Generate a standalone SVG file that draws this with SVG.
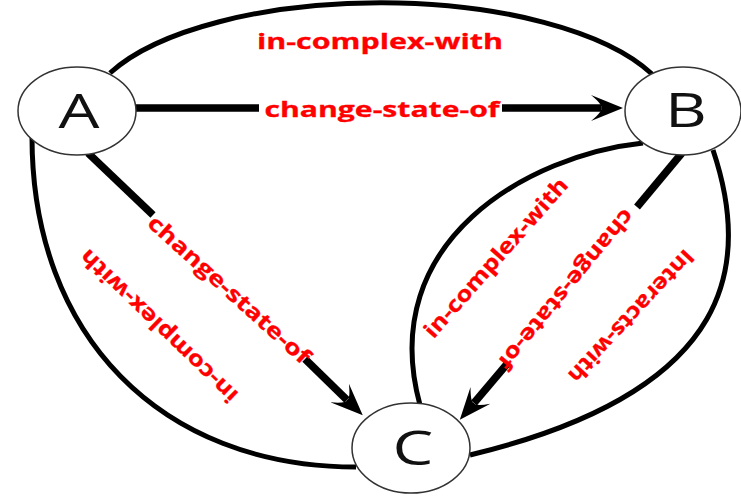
<svg xmlns="http://www.w3.org/2000/svg" width="741" height="498" viewBox="0 0 741 498">
<defs>
<style>
.node ellipse{fill:#fff;stroke:#333;stroke-width:1.5}
.node text{font-family:"Open Sans","Liberation Sans",sans-serif;font-size:48px;fill:#111;text-anchor:middle}
.thick{stroke:#000;stroke-width:7.5;fill:none}
.arc{stroke:#000;stroke-width:5;fill:none}
.lbl{font-family:"Open Sans","Liberation Sans",sans-serif;font-weight:700;fill:#ff0000;stroke:#ff0000;stroke-width:0.3;text-anchor:middle}
.rot{font-size:21.5px;dominant-baseline:central}
</style>
<marker id="arr" viewBox="0 -14 34 28" refX="10" refY="0" markerWidth="34" markerHeight="28" markerUnits="userSpaceOnUse" orient="auto">
<path d="M32,0 L0,-13 Q12,-3 10,0 Q12,3 0,13 Z" fill="#000"/>
</marker>
</defs>
<rect width="741" height="498" fill="#fff"/>
<g id="connectors">
<path class="arc" d="M110,73 A295,117 0 0,1 652,74"/>
<path class="arc" d="M32,137 C32,335 160,467 356,467"/>
<path class="arc" d="M643,143 C530,155 375,240 420,405"/>
<path class="arc" d="M713,150 C750,260 740,390 470,455"/>
<line class="thick" x1="131" y1="108" x2="259" y2="108"/>
<line class="thick" x1="502" y1="108" x2="601" y2="108" marker-end="url(#arr)"/>
<line class="thick" x1="88" y1="153" x2="153" y2="215"/>
<line class="thick" x1="305" y1="359" x2="347" y2="400" marker-end="url(#arr)"/>
<line class="thick" x1="682" y1="153" x2="637" y2="207"/>
<line class="thick" x1="507" y1="364" x2="474" y2="403" marker-end="url(#arr)"/>
</g>
<g id="node-A" class="node">
<ellipse cx="77" cy="111" rx="59" ry="44"/>
<text transform="translate(79,128) scale(1.35,1)">A</text>
</g>
<g id="node-B" class="node">
<ellipse cx="683" cy="111" rx="58" ry="44"/>
<text transform="translate(686,127) scale(1.35,1)">B</text>
</g>
<g id="node-C" class="node">
<ellipse cx="411" cy="448" rx="59" ry="45"/>
<text transform="translate(413,465) scale(1.35,1)">C</text>
</g>
<g id="labels">
<text class="lbl" x="380" y="49" font-size="22" textLength="246" lengthAdjust="spacingAndGlyphs">in-complex-with</text>
<text class="lbl" x="382" y="117" font-size="22" textLength="235" lengthAdjust="spacingAndGlyphs">change-state-of</text>
<text class="lbl rot" transform="translate(230,289) rotate(42)" textLength="210" lengthAdjust="spacingAndGlyphs">change-state-of</text>
<text class="lbl rot" transform="translate(158,327) rotate(224)" textLength="210" lengthAdjust="spacingAndGlyphs">in-complex-with</text>
<text class="lbl rot" transform="translate(495,257) rotate(-48.5)" textLength="205" lengthAdjust="spacingAndGlyphs">in-complex-with</text>
<text class="lbl rot" transform="translate(567,290) rotate(129.5)" textLength="200" lengthAdjust="spacingAndGlyphs">change-state-of</text>
<text class="lbl rot" transform="translate(632,317) rotate(133)" textLength="173" lengthAdjust="spacingAndGlyphs">Interacts-with</text>
</g>
</svg>
